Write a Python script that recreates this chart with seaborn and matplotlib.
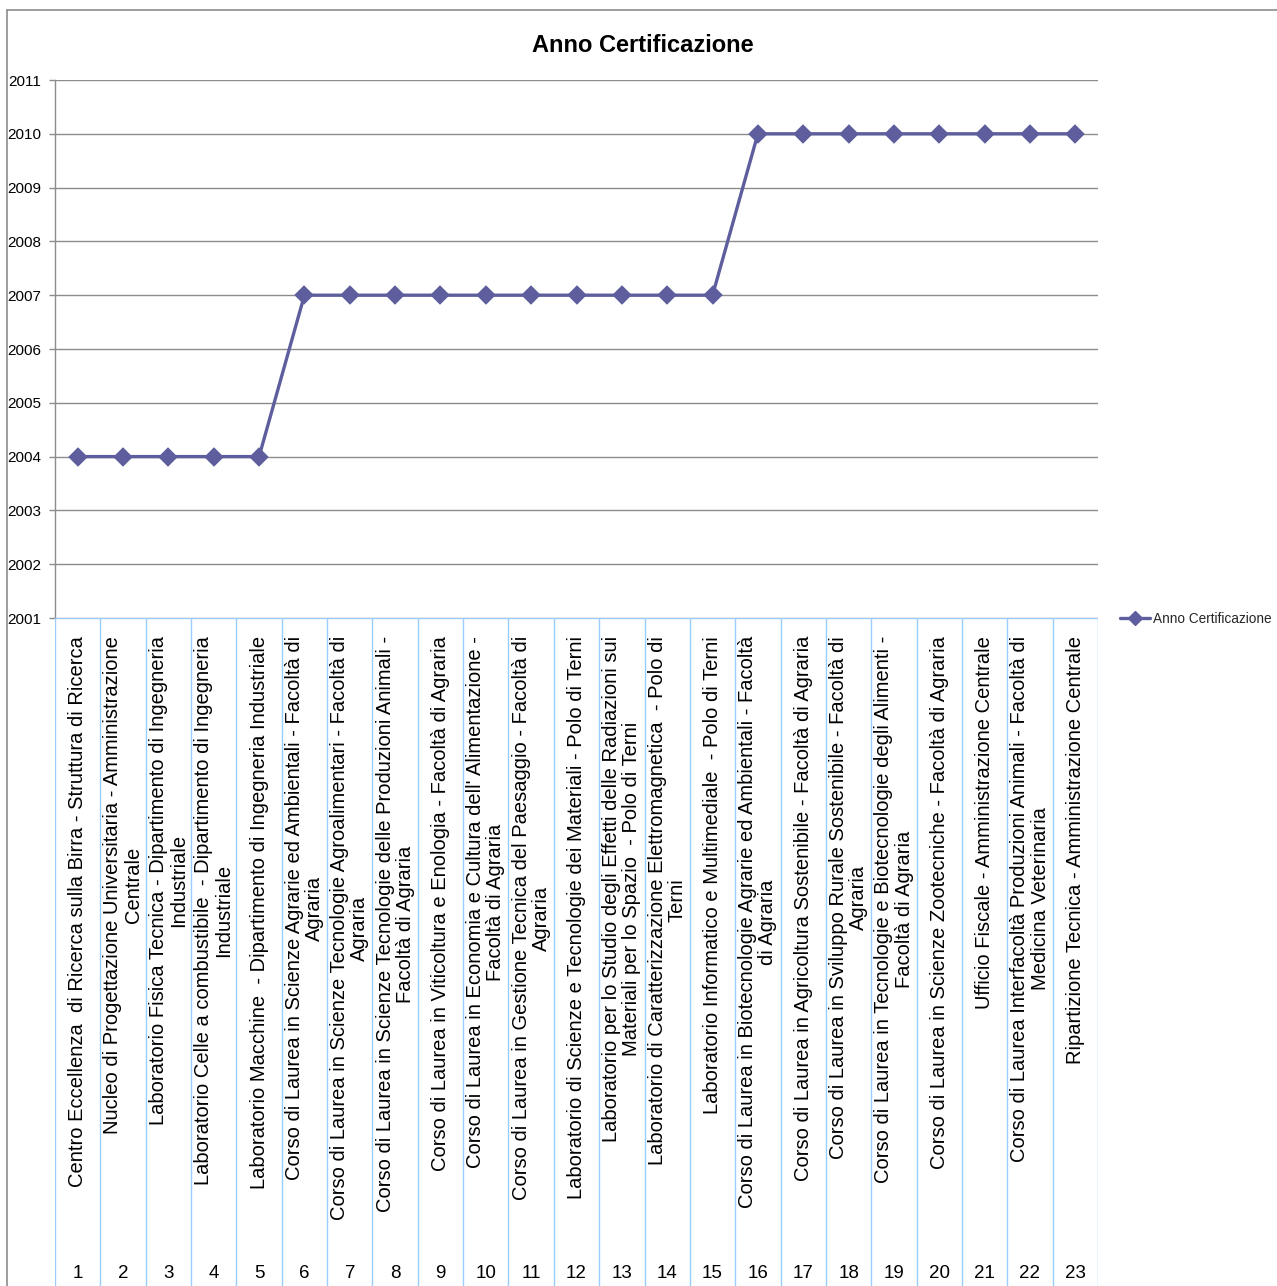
import matplotlib
matplotlib.use("Agg")
import matplotlib.pyplot as plt
from matplotlib.lines import Line2D
import seaborn as sns
import pandas as pd
import numpy as np

categories = [
    "Centro Eccellenza  di Ricerca sulla Birra - Struttura di Ricerca",
    "Nucleo di Progettazione Universitaria - Amministrazione\nCentrale",
    "Laboratorio Fisica Tecnica - Dipartimento di Ingegneria\nIndustriale",
    "Laboratorio Celle a combustibile  - Dipartimento di Ingegneria\nIndustriale",
    "Laboratorio Macchine  - Dipartimento di Ingegneria Industriale",
    "Corso di Laurea in Scienze Agrarie ed Ambientali - Facoltà di\nAgraria",
    "Corso di Laurea in Scienze Tecnologie Agroalimentari - Facoltà di\nAgraria",
    "Corso di Laurea in Scienze Tecnologie delle Produzioni Animali -\nFacoltà di Agraria",
    "Corso di Laurea in Viticoltura e Enologia - Facoltà di Agraria",
    "Corso di Laurea in Economia e Cultura dell' Alimentazione -\nFacoltà di Agraria",
    "Corso di Laurea in Gestione Tecnica del Paesaggio - Facoltà di\nAgraria",
    "Laboratorio di Scienze e Tecnologie dei Materiali - Polo di Terni",
    "Laboratorio per lo Studio degli Effetti delle Radiazioni sui\nMateriali per lo Spazio  - Polo di Terni",
    "Laboratorio di Caratterizzazione Elettromagnetica  - Polo di\nTerni",
    "Laboratorio Informatico e Multimediale  - Polo di Terni",
    "Corso di Laurea in Biotecnologie Agrarie ed Ambientali - Facoltà\ndi Agraria",
    "Corso di Laurea in Agricoltura Sostenibile - Facoltà di Agraria",
    "Corso di Laurea in Sviluppo Rurale Sostenibile - Facoltà di\nAgraria",
    "Corso di Laurea in Tecnologie e Biotecnologie degli Alimenti -\nFacoltà di Agraria",
    "Corso di Laurea in Scienze Zootecniche - Facoltà di Agraria",
    "Ufficio Fiscale - Amministrazione Centrale",
    "Corso di Laurea Interfacoltà Produzioni Animali - Facoltà di\nMedicina Veterinaria",
    "Ripartizione Tecnica - Amministrazione Centrale",
]
numbers = [str(i) for i in range(1, 24)]
anno = [2004, 2004, 2004, 2004, 2004,
        2007, 2007, 2007, 2007, 2007, 2007, 2007, 2007, 2007, 2007,
        2010, 2010, 2010, 2010, 2010, 2010, 2010, 2010]
yticks = list(range(2001, 2012))
series_name = "Anno Certificazione"
title = "Anno Certificazione"

sns.set_theme(style="white")
FONT = ["Liberation Sans Narrow", "Liberation Sans", "DejaVu Sans"]
plt.rcParams["font.family"] = FONT

W, H = 1277, 1286
fig = plt.figure(figsize=(W / 100, H / 100), dpi=100)

def fx(px):
    return px / W

def fy(py):
    return 1 - py / H

L, R, T, B = 55, 1098, 80, 618
ax = fig.add_axes([fx(L), fy(B), fx(R - L), (B - T) / H])

df = pd.DataFrame({"num": numbers, "anno": anno, "serie": series_name})
line_color = "#5E5E9E"
sns.pointplot(data=df, x="num", y="anno", ax=ax, color=line_color,
              markers="D", linestyles="-", errorbar=None,
              markersize=8, linewidth=2.4, label=series_name)

n = len(numbers)
ax.set_xlim(-0.5, n - 0.5)
ax.set_ylim(2001, 2011)
ax.set_yticks(yticks)
ax.set_yticklabels([str(v) for v in yticks], fontsize=11, color="black")
ax.set_xticks([])
ax.set_xlabel("")
ax.set_ylabel("")
ax.grid(axis="y", color="#8C8C8C", linewidth=1)
ax.set_axisbelow(True)
for s in ["top", "right", "bottom"]:
    ax.spines[s].set_visible(False)
ax.spines["left"].set_color("#8C8C8C")
ax.spines["left"].set_linewidth(1)
ax.tick_params(axis="y", which="major", left=True, length=4, width=1,
               color="#8C8C8C", pad=6)

if ax.get_legend() is not None:
    ax.get_legend().remove()

# category label area
cax = fig.add_axes([fx(L), 0.0, fx(R - L), fy(B)])
cax.set_xlim(-0.5, n - 0.5)
cax.set_ylim(0, 1)
cax.axis("off")
sep_color = "#99CCFF"
for k in range(n + 1):
    cax.axvline(k - 0.5, color=sep_color, linewidth=1)
cax.axhline(1, color=sep_color, linewidth=1)

area_h = H - B
def cy(py):
    return 1 - (py - B) / area_h

for i, (lab, num) in enumerate(zip(categories, numbers)):
    cax.text(i, cy(636), lab, rotation=90, ha="center", va="top",
             multialignment="center", fontsize=14.5, color="black",
             linespacing=1.08)
    cax.text(i, cy(1273), num, ha="center", va="center", fontsize=13.5,
             color="black")

fig.suptitle(title, x=fx(643), y=fy(45), va="center", fontsize=17,
             fontweight="bold", color="black")

# legend
handle = Line2D([0], [0], color=line_color, linewidth=2.4, marker="D",
                markersize=7)
fig.legend([handle], [series_name], loc="center left",
           bbox_to_anchor=(fx(1120), fy(619)), frameon=False, fontsize=9.8,
           handlelength=2.2, handletextpad=0.2, borderpad=0, borderaxespad=0)

# chart border
fig.add_artist(Line2D([fx(7), fx(7)], [fy(10), 0], color="#8C8C8C",
                      linewidth=1.2, transform=fig.transFigure))
fig.add_artist(Line2D([fx(7), 1], [fy(10), fy(10)], color="#8C8C8C",
                      linewidth=1.2, transform=fig.transFigure))

fig.savefig("out.png", dpi=100, facecolor="white")
